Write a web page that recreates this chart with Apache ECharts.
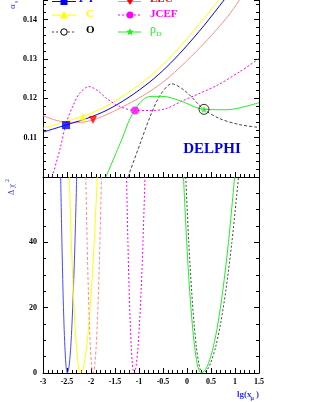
<!DOCTYPE html>
<html><head><meta charset="utf-8">
<script src="https://cdn.jsdelivr.net/npm/echarts@6/dist/echarts.min.js"></script>
<style>html,body{margin:0;padding:0;background:#fff}#c{width:311px;height:402px}</style>
</head><body><div id="c"></div>
<script>
// ---------- top panel: alpha_s vs lg(x_mu) ----------
const blueX = [-3.0, -2.5, -2.083, -1.667, -1.208, -0.771, -0.438, -0.083, 0.354, 0.792, 1.063];
const blueY = [0.1114, 0.1133, 0.1149, 0.1170, 0.1203, 0.1242, 0.1278, 0.1323, 0.1385, 0.1453, 0.1495];
const yellowX = [-3.0, -2.5, -2.083, -1.667, -1.208, -0.771, -0.438, -0.083, 0.354, 0.792];
const yellowY = [0.1124, 0.1142, 0.1158, 0.1181, 0.1216, 0.1256, 0.1293, 0.1340, 0.1403, 0.1471];
const redX = [-3.0, -2.75, -2.5, -2.229, -1.958, -1.667, -1.396, -1.083, -0.771, -0.438, -0.083, 0.271, 0.583, 0.854, 1.083, 1.313];
const redY = [0.1156, 0.1145, 0.1139, 0.1139, 0.1145, 0.1159, 0.1175, 0.1195, 0.1218, 0.1247, 0.1286, 0.1329, 0.1370, 0.1409, 0.1448, 0.1490];
const magentaX = [-2.81, -2.646, -2.521, -2.375, -2.229, -2.042, -1.854, -1.667, -1.396, -1.083, -0.771, -0.458, -0.083, 0.625, 1.104, 1.5];
const magentaY = [0.1000, 0.1071, 0.1135, 0.1181, 0.1214, 0.1230, 0.1219, 0.1199, 0.1179, 0.1169, 0.1169, 0.1173, 0.1194, 0.1233, 0.1268, 0.1301];
const greenX = [-1.69, -1.354, -1.188, -0.979, -0.771, -0.5, -0.146, 0.354, 0.833, 1.208, 1.5];
const greenY = [0.1000, 0.1097, 0.1148, 0.1189, 0.1205, 0.1205, 0.1194, 0.1172, 0.1171, 0.1179, 0.1189];
const blackX = [-1.229, -0.979, -0.771, -0.563, -0.319, -0.042, 0.354, 0.688, 1.104, 1.5];
const blackY = [0.1000, 0.1084, 0.1153, 0.1207, 0.1237, 0.1219, 0.1172, 0.1148, 0.1133, 0.1126];
// chosen points (markers)
const markX = [-2.52, -2.167, -1.958, -1.083, 0.354, 0.354];
const markY = [0.1132, 0.1153, 0.1145, 0.1169, 0.1172, 0.1172];

// ---------- bottom panel: delta chi^2 vs lg(x_mu) ----------
const chiLevels = [60, 40, 25, 15, 8, 3, 1, 0, 1, 3, 8, 15, 25, 40, 60];
const blueChiX = [-2.632, -2.606, -2.583, -2.563, -2.544, -2.525, -2.512, -2.494, -2.469, -2.450, -2.422, -2.396, -2.368, -2.334, -2.298];
const yellowChiX = [-2.452, -2.409, -2.369, -2.336, -2.304, -2.271, -2.249, -2.219, -2.174, -2.141, -2.091, -2.044, -1.993, -1.933, -1.869];
const redChiX = [-2.108, -2.081, -2.055, -2.033, -2.013, -1.992, -1.977, -1.958, -1.935, -1.918, -1.893, -1.870, -1.844, -1.814, -1.781];
const magentaChiX = [-1.260, -1.231, -1.205, -1.182, -1.161, -1.139, -1.124, -1.104, -1.074, -1.053, -1.020, -0.990, -0.956, -0.917, -0.875];
const greenChiX = [-0.073, -0.006, 0.056, 0.110, 0.159, 0.210, 0.245, 0.292, 0.382, 0.449, 0.548, 0.642, 0.744, 0.864, 0.992];
const blackChiX = [-0.027, 0.037, 0.097, 0.148, 0.195, 0.245, 0.278, 0.323, 0.420, 0.491, 0.597, 0.698, 0.807, 0.935, 1.073];

// ---------- axis ticks ----------
const xMin = -3, xMax = 1.5, xStep = 0.5;
const aMin = 0.10, aMax = 0.145, aStep = 0.01;
const cMin = 0, cMax = 60, cStep = 20;

const SERIF = '"Liberation Serif","DejaVu Serif",serif';
const C = {blue:'#0000ff', yellow:'#ffff00', red:'#ff8c8c', magenta:'#ff00ff', green:'#22ee22', black:'#444444'};
const pair = (xs, ys) => xs.map((x, i) => [x, ys[i]]);

function xAx(grid, labels) {
  return {gridIndex: grid, type: 'value', min: xMin, max: xMax, interval: xStep,
    axisLine: {show: true, onZero: false, lineStyle: {color: '#000', width: 1}},
    axisTick: {show: true, inside: true, length: 5, lineStyle: {color: '#000'}},
    minorTick: {show: true, splitNumber: 5, length: 3, lineStyle: {color: '#000'}},
    splitLine: {show: false},
    axisLabel: {show: labels, fontFamily: SERIF, fontWeight: 'bold', fontSize: 8, color: '#000', margin: 5}};
}
function yAx(grid, pos, min, max, step, minor, labels, fmt) {
  return {gridIndex: grid, type: 'value', position: pos, min: min, max: max, interval: step,
    axisLine: {show: true, onZero: false, lineStyle: {color: '#000', width: 1}},
    axisTick: {show: true, inside: true, length: 5, lineStyle: {color: '#000'}},
    minorTick: {show: true, splitNumber: minor, length: 3, lineStyle: {color: '#000'}},
    splitLine: {show: false},
    axisLabel: {show: labels, formatter: fmt, fontFamily: SERIF, fontWeight: 'bold', fontSize: 8, color: '#000', margin: 6}};
}
function line(xi, yi, data, color, type, width) {
  return {type: 'line', xAxisIndex: xi, yAxisIndex: yi, data: data, showSymbol: false, symbol: 'none',
    smooth: 0.3, clip: true, silent: true,
    lineStyle: {color: color, width: width || 1, type: type || 'solid'}};
}
function mark(i, symbol, size, color, extra) {
  return Object.assign({type: 'scatter', xAxisIndex: 0, yAxisIndex: 0, data: [[markX[i], markY[i]]],
    symbol: symbol, symbolSize: size, silent: true, z: 5,
    itemStyle: {color: color}}, extra || {});
}
const STAR = 'path://M50,0 L61,35 L98,35 L68,57 L79,91 L50,70 L21,91 L32,57 L2,35 L39,35 Z';

function starPts(cx, cy, R, r) {
  const p = [];
  for (let k = 0; k < 10; k++) {
    const ang = -Math.PI / 2 + k * Math.PI / 5, rad = k % 2 ? r : R;
    p.push([cx + rad * Math.cos(ang), cy + rad * Math.sin(ang)]);
  }
  return p;
}
const T = (x, y, text, font, fill, extra) => Object.assign({type: 'text', x: x, y: y, silent: true,
  style: {text: text, font: font, fill: fill, align: 'left', verticalAlign: 'middle'}}, extra || {});
const L = (x1, y, x2, color, dash) => ({type: 'line', silent: true, shape: {x1: x1, y1: y, x2: x2, y2: y},
  style: {stroke: color, lineWidth: 1, lineDash: dash || null}});

const graphic = [
  // legend column 1
  L(52, 1.5, 76, C.blue), {type: 'rect', shape: {x: 60.5, y: -2, width: 7, height: 7}, style: {fill: C.blue}},
  T(78, -0.5, '1-T', 'bold 11px ' + SERIF, C.blue),
  L(52, 15, 76, '#ffff00'), {type: 'polygon', shape: {points: [[60, 18.5], [68, 18.5], [64, 11]]}, style: {fill: '#ffff00'}},
  T(86, 14, 'C', 'bold 11px ' + SERIF, '#ffff00'),
  L(52, 32, 76, C.black, [2, 2]), {type: 'circle', shape: {cx: 64, cy: 32, r: 3.2}, style: {fill: '#fff', stroke: '#000', lineWidth: 1}},
  T(86, 30, 'O', 'bold 11px ' + SERIF, '#000'),
  // legend column 2
  L(118, 1.5, 141, C.red), {type: 'polygon', shape: {points: [[126, -1.5], [134, -1.5], [130, 5]]}, style: {fill: '#ff0000'}},
  T(150, -0.5, 'EEC', 'bold 11px ' + SERIF, '#ff0000'),
  L(118, 15, 141, C.magenta, [2, 2]), {type: 'circle', shape: {cx: 130, cy: 15, r: 3.5}, style: {fill: C.magenta}},
  T(150, 14, 'JCEF', 'bold 11px ' + SERIF, C.magenta),
  L(118, 32, 141, C.green), {type: 'polygon', shape: {points: starPts(130, 32, 4, 1.7)}, style: {fill: C.green}},
  T(150, 30, 'ρ', '12px ' + SERIF, C.green), T(156.5, 34, 'D', '7px ' + SERIF, C.green),
  // DELPHI
  {type: 'text', x: 212, y: 149, silent: true, style: {text: 'DELPHI', font: 'bold 15px ' + SERIF, fill: '#0000ee', align: 'center', verticalAlign: 'middle'}},
  // axis titles
  {type: 'group', x: 13, y: 9, rotation: Math.PI / 2, children: [
    T(0, 0, 'α', '9px ' + SERIF, '#3333ff'), T(6, 3, 's', '6px ' + SERIF, '#3333ff')]},
  {type: 'group', x: 12, y: 195, rotation: Math.PI / 2, children: [
    T(0, 0, 'Δ χ', '8px ' + SERIF, '#3333ff'), T(13, -4.5, '2', '6px ' + SERIF, '#3333ff')]},
  T(237, 395, 'lg(x', 'bold 9px ' + SERIF, '#3333ff'),
  T(250.5, 398.5, 'μ', 'bold 6px ' + SERIF, '#3333ff'),
  T(256, 395, ')', 'bold 9px ' + SERIF, '#3333ff')
];

const option = {
  animation: false,
  backgroundColor: '#fff',
  grid: [{left: 43, right: 52, top: 0, height: 177}, {left: 43, right: 52, top: 177, height: 196}],
  xAxis: [xAx(0, false), xAx(1, true)],
  yAxis: [
    yAx(0, 'left', aMin, aMax, aStep, 5, true, v => (v > 0.105 && v < 0.1445) ? v.toFixed(2) : ''),
    yAx(0, 'right', aMin, aMax, aStep, 5, false),
    yAx(1, 'left', cMin, cMax, cStep, 4, true, v => v < 55 ? String(v) : ''),
    yAx(1, 'right', cMin, cMax, cStep, 4, false)
  ],
  series: [
    line(0, 0, pair(redX, redY), C.red, 'solid', 1),
    line(0, 0, pair(yellowX, yellowY), C.yellow, 'solid', 1),
    line(0, 0, pair(blueX, blueY), C.blue, 'solid', 1),
    line(0, 0, pair(magentaX, magentaY), C.magenta, [2, 2], 1),
    line(0, 0, pair(blackX, blackY), C.black, [3, 2], 1),
    line(0, 0, pair(greenX, greenY), C.green, 'solid', 1),
    mark(0, 'rect', 8, C.blue),
    mark(1, 'triangle', 8, '#ffff00'),
    mark(2, 'triangle', 8, '#ff0000', {symbolRotate: 180}),
    mark(3, 'circle', 8, C.magenta),
    mark(4, STAR, 8, C.green),
    mark(5, 'circle', 10, 'rgba(0,0,0,0)', {itemStyle: {color: 'rgba(0,0,0,0)', borderColor: '#000', borderWidth: 1}}),
    line(1, 2, pair(blueChiX, chiLevels), '#4a4aff', 'solid', 1),
    line(1, 2, pair(yellowChiX, chiLevels), C.yellow, 'solid', 1),
    line(1, 2, pair(redChiX, chiLevels), C.red, [3, 2], 1),
    line(1, 2, pair(magentaChiX, chiLevels), C.magenta, [2, 2], 1),
    line(1, 2, pair(blackChiX, chiLevels), C.black, [2, 2], 1),
    line(1, 2, pair(greenChiX, chiLevels), C.green, 'solid', 1)
  ],
  graphic: graphic
};
echarts.init(document.getElementById('c'), null, {renderer: 'canvas'}).setOption(option);
</script></body></html>
